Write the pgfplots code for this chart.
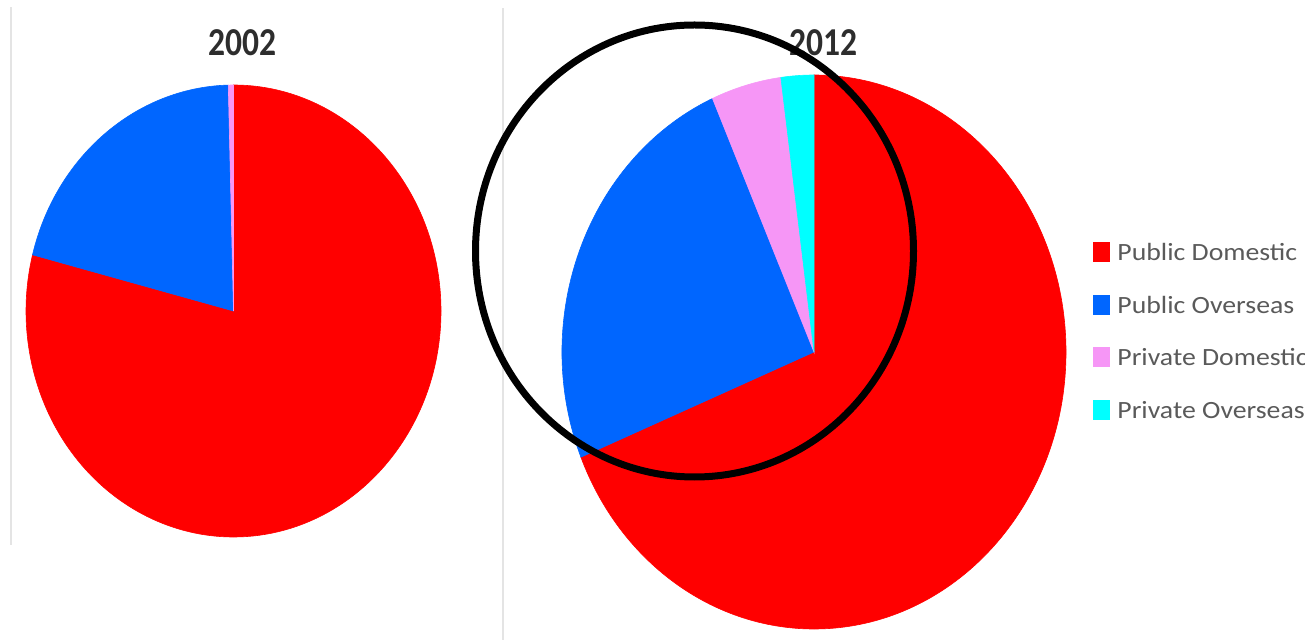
\documentclass[border=0pt]{standalone}
\usepackage{pgfplots}
\usepackage{pgfplotstable}
\pgfplotsset{compat=1.18}
\usepackage{fontspec}
\setmainfont{Carlito}

\definecolor{pubdom}{RGB}{255,0,0}
\definecolor{pubove}{RGB}{0,102,255}
\definecolor{privdom}{RGB}{246,150,246}
\definecolor{privove}{RGB}{0,255,255}
\definecolor{divider}{RGB}{228,228,228}
\definecolor{legtext}{RGB}{90,90,90}
\definecolor{titletext}{RGB}{45,45,45}

% shares in percent, clockwise from twelve o'clock
\pgfplotstableread{
share colour
79.0  pubdom
20.6  pubove
0.4   privdom
0.0   privove
}\sharesA

\pgfplotstableread{
share colour
68.8  pubdom
24.6  pubove
4.5   privdom
2.1   privove
}\sharesB

% #1 table, #2 cx, #3 cy (axis units), #4 rx, #5 ry (axis units = 0.5pt)
\newcommand\drawpie[5]{%
  \pgfplotstablegetrowsof{#1}%
  \pgfmathtruncatemacro\lastrow{\pgfplotsretval-1}%
  \pgfmathsetmacro\rxpt{#4*0.5}%
  \pgfmathsetmacro\rypt{#5*0.5}%
  \xdef\cum{0}%
  \foreach \r in {0,...,\lastrow}{%
    \pgfplotstablegetelem{\r}{share}\of{#1}\let\sh=\pgfplotsretval
    \pgfplotstablegetelem{\r}{colour}\of{#1}\let\col=\pgfplotsretval
    \pgfmathsetmacro\sa{90-3.6*\cum}%
    \pgfmathsetmacro\ea{90-3.6*(\cum+\sh)}%
    \ifdim\sh pt>0pt
      \fill[\col, draw=\col, line width=0.3pt] (axis cs:#2,#3) -- ++(\sa:\rxpt pt and \rypt pt)
        arc[start angle=\sa, end angle=\ea, x radius=\rxpt pt, y radius=\rypt pt] -- cycle;
    \fi
    \pgfmathsetmacro\tmp{\cum+\sh}%
    \xdef\cum{\tmp}%
  }%
}

\newcommand\legentry[3]{% y, colour, label
  \fill[#2] (axis cs:1093,#1-10) rectangle (axis cs:1110,#1+10);
  \node[anchor=west, inner sep=0pt, text=legtext, font=\fontsize{12.4}{14}\selectfont]
    at (axis cs:1117,#1) {\scalebox{1.12}[1]{#3}};
}

\begin{document}
\begin{tikzpicture}
\path[use as bounding box, clip] (0,0) rectangle (652.5pt,320pt);
\begin{axis}[
  at={(0,0)}, anchor=south west,
  scale only axis, width=652.5pt, height=320pt,
  xmin=0, xmax=1305, ymin=0, ymax=640, y dir=reverse,
  axis lines=none, clip=false,
]
\pgfplotsextra{%
  % panel dividers
  \draw[divider, line width=1pt] (axis cs:11,7) -- (axis cs:11,545);
  \draw[divider, line width=1pt] (axis cs:503,8) -- (axis cs:503,640);
  % pies
  \drawpie{\sharesA}{233.5}{311}{207.5}{226}
  \drawpie{\sharesB}{814}{352}{252}{277}
  % titles
  \node[text=titletext, inner sep=0pt, font=\fontsize{16.75}{20}\selectfont\bfseries]
    at (axis cs:242.5,42.5) {\scalebox{1}[1.18]{2002}};
  \node[text=titletext, inner sep=0pt, font=\fontsize{16.75}{20}\selectfont\bfseries]
    at (axis cs:823.5,42.5) {\scalebox{1}[1.18]{2012}};
  % legend
  \legentry{252}{pubdom}{Public Domestic}
  \legentry{305}{pubove}{Public Overseas}
  \legentry{357}{privdom}{Private Domestic}
  \legentry{410}{privove}{Private Overseas}
  % highlight ring
  \draw[black, line width=3.5pt] (axis cs:694.5,251) ellipse [x radius=109.5pt, y radius=113pt];
}
\end{axis}
\end{tikzpicture}
\end{document}
